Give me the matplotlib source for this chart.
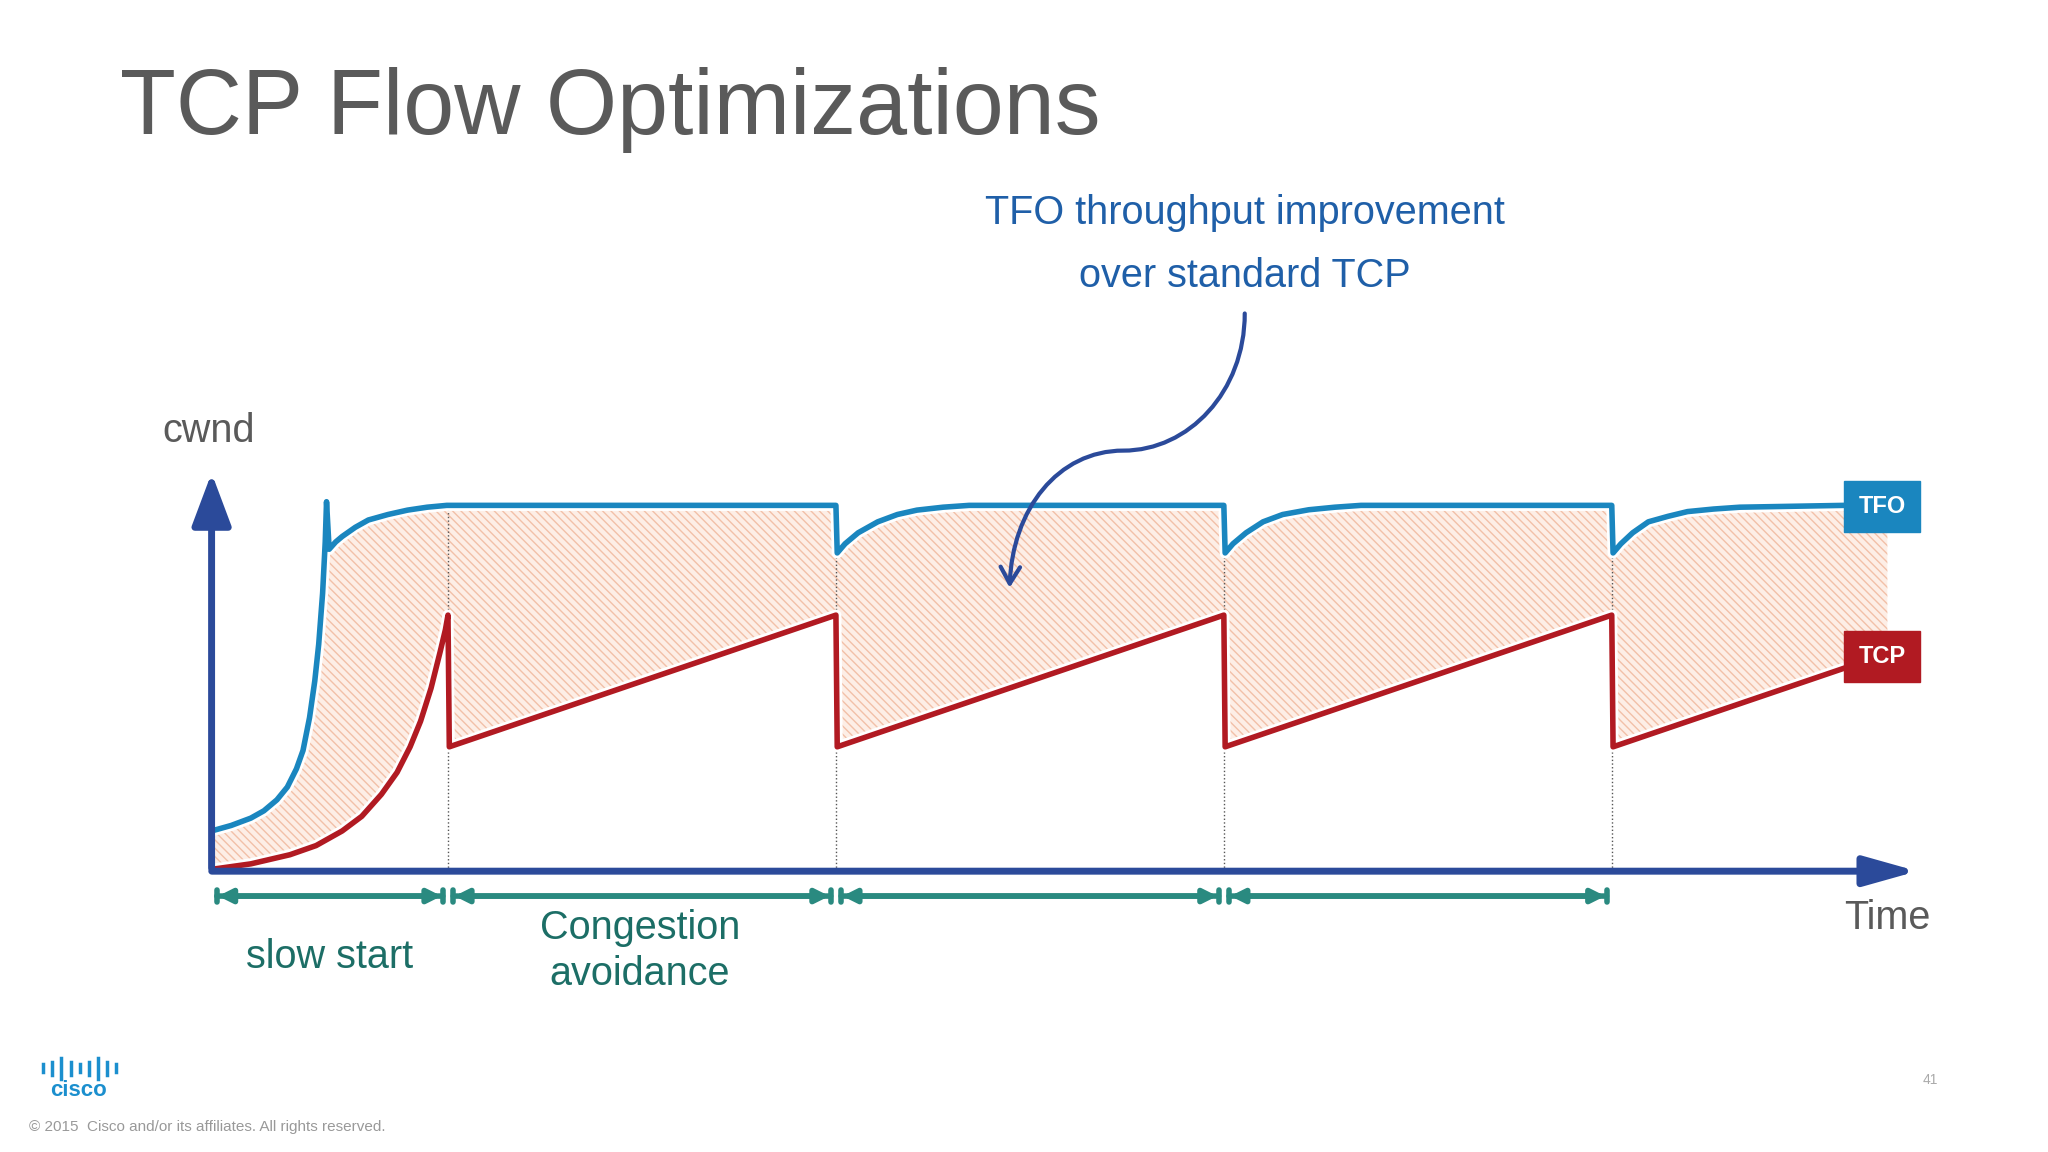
import numpy as np
import matplotlib.pyplot as plt
import matplotlib.patheffects as pe
from matplotlib.path import Path
from matplotlib.patches import FancyArrowPatch, Rectangle

plt.rcParams['font.family'] = ['Liberation Sans', 'DejaVu Sans']

# cwnd curves (time units, cwnd units)
tfo_t = [0, 0.15, 0.3, 0.4, 0.5, 0.58, 0.65, 0.7, 0.75, 0.79, 0.82, 0.85, 0.87, 0.88, 0.9,
         0.95, 1.0, 1.1, 1.2, 1.35, 1.5, 1.65, 1.8,
         4.78, 4.79, 4.85, 4.95, 5.1, 5.25, 5.4, 5.6, 5.8,
         7.75, 7.76, 7.82, 7.92, 8.05, 8.2, 8.4, 8.6, 8.8,
         10.72, 10.73, 10.79, 10.88, 11.0, 11.15, 11.3, 11.5, 11.7, 12.5]
tfo_c = [11, 12.5, 14.5, 16.5, 19.5, 23, 28, 33, 42, 52, 62, 76, 90, 101, 88,
         90, 91.5, 94, 96, 97.5, 98.7, 99.5, 100,
         100, 87, 89.5, 92.5, 95.5, 97.5, 98.7, 99.5, 100,
         100, 87, 89.5, 92.5, 95.5, 97.5, 98.8, 99.5, 100,
         100, 87, 89.5, 92.5, 95.5, 97, 98.3, 99, 99.5, 100]
tcp_t = [0, 0.3, 0.6, 0.8, 1.0, 1.15, 1.3, 1.42, 1.52, 1.6, 1.68, 1.75, 1.79, 1.81, 1.82,
         4.78, 4.79, 7.75, 7.76, 10.72, 10.73, 12.5]
tcp_c = [0.5, 2, 4.5, 7, 11, 15, 21, 27, 34, 41, 50, 60, 66, 70, 34,
         70, 34, 70, 34, 70, 34, 55.5]
phase_edges = [0, 1.81, 4.78, 7.75, 10.72]
fill_end = 12.83

W, H = 1568, 882
fig = plt.figure(figsize=(20.48, 11.52), dpi=100)
over = fig.add_axes([0, 0, 1, 1])
over.set_xlim(0, W)
over.set_ylim(H, 0)
over.axis('off')
over.set_zorder(3)

ax = fig.add_axes([162 / W, (H - 667) / H, (1468 - 162) / W, (667 - 362) / H])
ax.set_xlim(0, 13.06)
ax.set_ylim(0, 108.9)
ax.axis('off')

blue = '#1a86bf'
red = '#b11a22'
dark = '#2b4a9a'
teal = '#2a8a80'

tg = np.linspace(0, fill_end, 1500)
up = np.interp(tg, tfo_t + [fill_end], tfo_c + [100])
lo = np.interp(tg, tcp_t + [fill_end], tcp_c + [57])
ax.fill_between(tg, lo, up, facecolor='#fdeee6', edgecolor='#f2c0a8',
                hatch='\\\\\\\\', linewidth=0)

for e in phase_edges[1:]:
    ax.plot([e, e], [0, 100], color='#555555', ls=':', lw=1)

halo = [pe.Stroke(linewidth=8, foreground='white'), pe.Normal()]
ax.plot(tfo_t, tfo_c, color=blue, lw=4, path_effects=halo, solid_joinstyle='round')
ax.plot(tcp_t, tcp_c, color=red, lw=4, path_effects=halo, solid_joinstyle='round')

# axes arrows
over.add_patch(FancyArrowPatch((162, 667), (162, 360), arrowstyle='-|>,head_length=1.6,head_width=0.6',
                               mutation_scale=20, color=dark, lw=5))
over.add_patch(FancyArrowPatch((160, 667), (1470, 667), arrowstyle='-|>,head_length=1.6,head_width=0.45',
                               mutation_scale=20, color=dark, lw=5))

# phase arrows
for a, b in zip(phase_edges[:-1], phase_edges[1:]):
    ax.annotate('', xy=(a + 0.04, -6.8), xytext=(b - 0.04, -6.8), annotation_clip=False,
                arrowprops=dict(arrowstyle='|-|,widthA=0.45,widthB=0.45', color=teal, lw=4,
                                shrinkA=0, shrinkB=0))
    ax.annotate('', xy=(a + 0.05, -6.8), xytext=(b - 0.05, -6.8), annotation_clip=False,
                arrowprops=dict(arrowstyle='<|-|>,head_length=0.8,head_width=0.4', color=teal, lw=4,
                                shrinkA=0, shrinkB=0))

# labels
over.add_patch(Rectangle((1412, 368), 58, 39, color=blue))
over.text(1441, 388, 'TFO', color='white', fontsize=17, weight='bold', ha='center', va='center')
over.add_patch(Rectangle((1412, 483), 58, 39, color=red))
over.text(1441, 503, 'TCP', color='white', fontsize=17, weight='bold', ha='center', va='center')

over.text(92, 84, 'TCP Flow Optimizations', fontsize=66, color='#5a5a5a', va='center')
over.text(953, 163, 'TFO throughput improvement', fontsize=28.5, color='#1f5fa8', ha='center', va='center')
over.text(953, 211, 'over standard TCP', fontsize=28.5, color='#1f5fa8', ha='center', va='center')
over.text(160, 330, 'cwnd', fontsize=28.5, color='#5a5a5a', ha='center', va='center')
over.text(1445, 703, 'Time', fontsize=28.5, color='#5a5a5a', ha='center', va='center')
over.text(252, 733, 'slow start', fontsize=28.5, color='#1c6e66', ha='center', va='center')
over.text(490, 728, 'Congestion\navoidance', fontsize=28.5, color='#1c6e66', ha='center', va='center',
          linespacing=1.25)

# curved pointer
verts = [(953, 240), (953, 300), (910, 345), (860, 345), (810, 345), (775, 390), (773, 450)]
codes = [Path.MOVETO] + [Path.CURVE4] * 6
over.add_patch(FancyArrowPatch(path=Path(verts, codes), arrowstyle='->,head_length=0.6,head_width=0.35',
                               mutation_scale=20, color=dark, lw=3))

# footer
for i, h in enumerate([6, 10, 16, 10, 6, 10, 16, 10, 6]):
    over.plot([33 + i * 7, 33 + i * 7], [818 - h / 2, 818 + h / 2], color='#1b8fce', lw=2.5)
over.text(60, 835, 'cisco', fontsize=16, color='#1b8fce', weight='bold', ha='center', va='center')
over.text(22, 863, '\u00a9 2015  Cisco and/or its affiliates. All rights reserved.', fontsize=11,
          color='#999999', va='center')
over.text(1478, 827, '41', fontsize=10, color='#aaaaaa', ha='center', va='center')

fig.savefig('out.png', dpi=100, facecolor='white')
